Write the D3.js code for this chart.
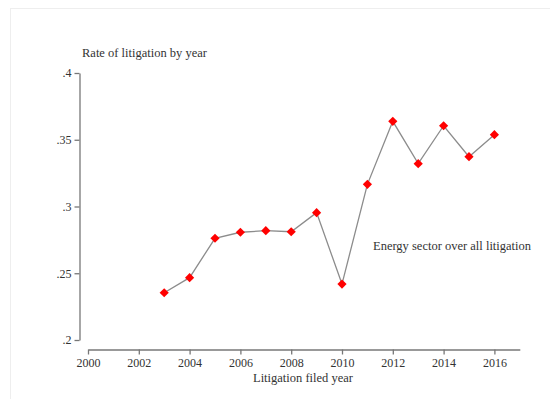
<!DOCTYPE html>
<html>
<head>
<meta charset="utf-8">
<script src="https://cdn.jsdelivr.net/npm/d3@7"></script>
<style>
  html, body { margin: 0; padding: 0; background: #fff; }
  svg { display: block; }
  text { font-family: "Liberation Serif", "Times New Roman", serif; fill: #333; }
</style>
</head>
<body>
<svg id="chart" width="550" height="399"></svg>
<script>
// Energy-sector share of all litigation, by filing year
const years = [2003, 2004, 2005, 2006, 2007, 2008, 2009, 2010, 2011, 2012, 2013, 2014, 2015, 2016];
const rates = [0.2354, 0.2467, 0.2762, 0.2807, 0.2819, 0.2811, 0.2954, 0.2419, 0.3166, 0.3638, 0.3321, 0.3605, 0.3373, 0.3538];
const xTicks = [2000, 2002, 2004, 2006, 2008, 2010, 2012, 2014, 2016];
const yTicks = [0.2, 0.25, 0.3, 0.35, 0.4];
const yTickLabels = [".2", ".25", ".3", ".35", ".4"];

const svg = d3.select("#chart");

// light frame around the plot region
svg.append("rect")
  .attr("x", 10.5).attr("y", 8.5)
  .attr("width", 560).attr("height", 420)
  .attr("fill", "none")
  .attr("stroke", "#eeeeee");

const x = d3.scaleLinear().domain([2000, 2017]).range([88, 519.8]);
const y = d3.scaleLinear().domain([0.2, 0.4]).range([340, 73]);

const axisColor = "#777";

// x axis
const gx = svg.append("g")
  .attr("transform", "translate(0,349.5)")
  .call(d3.axisBottom(x).tickValues(xTicks).tickFormat(d3.format("d")).tickSize(5).tickSizeOuter(0).tickPadding(4));
gx.select(".domain").attr("stroke", axisColor).attr("stroke-width", 1.3);
gx.selectAll(".tick line").attr("stroke", axisColor).attr("stroke-width", 1.3);
gx.selectAll(".tick text").attr("font-size", 12).style("fill", "#333");

// y axis
const gy = svg.append("g")
  .attr("transform", "translate(79.5,0)")
  .call(d3.axisLeft(y).tickValues(yTicks).tickFormat((d, i) => yTickLabels[i]).tickSize(5).tickSizeOuter(0).tickPadding(3));
gy.select(".domain").attr("stroke", axisColor).attr("stroke-width", 1.3);
gy.selectAll(".tick line").attr("stroke", axisColor).attr("stroke-width", 1.3);
gy.selectAll(".tick text").attr("font-size", 12).style("fill", "#333");

// axis titles
svg.append("text")
  .attr("x", 82).attr("y", 57)
  .attr("font-size", 12.5)
  .text("Rate of litigation by year");

svg.append("text")
  .attr("x", 303).attr("y", 382)
  .attr("text-anchor", "middle")
  .attr("font-size", 12.5)
  .text("Litigation filed year");

// series line
const data = years.map((yr, i) => ({ year: yr, rate: rates[i] }));
svg.append("path")
  .datum(data)
  .attr("fill", "none")
  .attr("stroke", "#8c8c8c")
  .attr("stroke-width", 1.3)
  .attr("d", d3.line().x(d => x(d.year)).y(d => y(d.rate)));

// diamond markers
svg.selectAll(".pt")
  .data(data)
  .join("path")
  .attr("class", "pt")
  .attr("transform", d => `translate(${x(d.year)},${y(d.rate)})`)
  .attr("d", "M0,-4.6L4.6,0L0,4.6L-4.6,0Z")
  .attr("fill", "#ff0000");

// series label
svg.append("text")
  .attr("x", 373).attr("y", 250)
  .attr("font-size", 12.5)
  .text("Energy sector over all litigation");
</script>
</body>
</html>
